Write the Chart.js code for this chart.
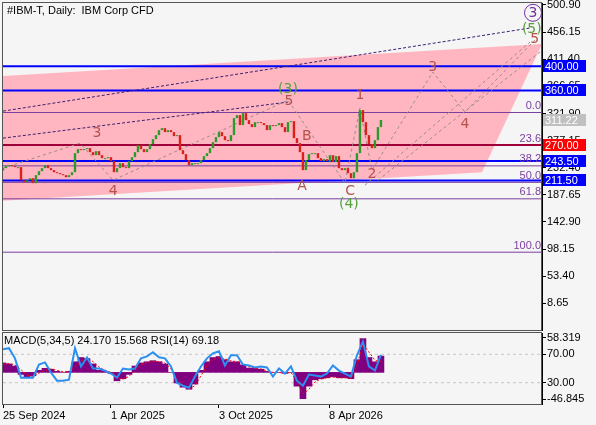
<!DOCTYPE html>
<html>
<head>
<meta charset="utf-8">
<script src="https://cdn.jsdelivr.net/npm/chart.js@4.4.1/dist/chart.umd.min.js"></script>
<style>
  html, body { margin: 0; padding: 0; background: #f5f5f5; }
  #wrap { position: relative; width: 596px; height: 425px; overflow: hidden; background: #f5f5f5; }
  #main { position: absolute; left: 0; top: 0; }
  #sub { position: absolute; left: 0; top: 331px; }
</style>
</head>
<body>
<div id="wrap">
  <canvas id="main" width="596" height="331"></canvas>
  <canvas id="sub" width="596" height="94"></canvas>
</div>
<script>
// daily closes, one every 3 px (bar index 0 = left edge)
var firstOpen = 228.0;
var closes = [231.7, 235.0, 236.6, 235.0, 233.3, 233.3, 211.8, 208.5, 211.8, 215.1,
  206.9, 220.1, 226.7, 231.7, 236.6, 231.7, 228.4, 225.0, 223.4, 221.7,
  220.1, 216.8, 220.1, 225.0, 256.4, 263.0, 261.4, 263.0, 264.7, 258.1,
  253.1, 259.7, 253.1, 248.2, 248.2, 249.8, 243.2, 225.0, 231.7, 239.9,
  233.3, 231.7, 243.2, 249.8, 258.1, 269.6, 263.0, 258.1, 263.0, 271.3,
  279.6, 286.2, 294.4, 297.7, 291.1, 294.4, 291.1, 284.5, 286.2, 261.4,
  254.8, 244.9, 236.6, 239.9, 239.9, 239.9, 244.9, 251.5, 256.4, 264.7,
  274.6, 282.9, 291.1, 284.5, 277.9, 276.3, 286.2, 314.2, 319.2, 302.7,
  322.5, 310.9, 304.3, 299.4, 307.6, 307.6, 306.0, 302.7, 294.4, 302.7,
  301.0, 302.7, 306.0, 299.4, 291.1, 307.6, 309.3, 281.2, 273.0, 258.1,
  228.4, 244.9, 254.8, 256.4, 256.4, 248.2, 243.2, 246.5, 243.2, 253.1,
  241.6, 251.5, 231.7, 228.4, 231.7, 223.4, 215.1, 225.0, 256.4, 327.5,
  307.6, 286.2, 271.3, 264.7, 277.9, 299.4, 311.22];

// indicator window, one value every second bar
var rsiValues = [77.1, 78.6, 64.3, 37.1, 37.1, 37.1, 55.7, 58.6, 44.3, 32.9,
  32.9, 34.3, 78.6, 52.9, 65.7, 50.0, 50.0, 47.1, 42.9, 37.1,
  50.0, 48.6, 50.0, 64.3, 67.1, 72.9, 65.7, 64.3, 52.9, 30.0,
  25.7, 22.9, 38.6, 52.9, 64.3, 71.4, 74.3, 54.3, 68.6, 68.6,
  55.7, 54.3, 51.4, 52.9, 51.4, 38.6, 50.0, 42.9, 52.9, 32.9,
  25.7, 41.4, 40.0, 38.6, 42.9, 54.3, 47.1, 42.9, 38.6, 68.6,
  88.0, 52.9, 47.1, 69.18];
var macdValues = [14, 12.5, 9.4, -3, -8, -5, 3, 6, 4.7, 1.5,
  0, 1.5, 15.7, 22, 20.4, 12.5, 3, 1.5, -1.5, -12.5,
  -9.4, -3, 9.4, 14, 15.7, 17.3, 15.7, 12.5, 0, -15.7,
  -22, -25, -17.3, 3, 15.7, 22, 23.5, 18.8, 15.7, 15.7,
  11, 6.3, 6.3, 4.7, 1.5, 0, 0, -1.5, 0, -20.4,
  -39, -20.4, -11, -9.4, -8, -6.3, -8, -8, -9.4, 18.8,
  50, 22, 15.7, 24.17];
var signalValues = [12, 13, 11, 4, -4, -6, -1, 3, 5, 3,
  1, 1, 8, 17, 20, 16, 8, 3, 0, -8,
  -10, -6, 3, 11, 15, 16, 16, 14, 5, -9,
  -19, -24, -20, -5, 10, 19, 22, 20, 17, 16,
  13, 8, 6, 5, 2, 0, 0, -1, 0, -14,
  -32, -25, -14, -10, -8, -7, -8, -8, -9, 10,
  42, 30, 18, 15.57];

// axis ticks
var priceTicks = [500.90, 456.15, 411.40, 366.65, 321.90, 277.15, 232.40, 187.65, 142.90, 98.15, 53.40, 8.65];
var dateTicks = [0, 36, 72, 108.7];
var dateLabels = ['25 Sep 2024', '1 Apr 2025', '3 Oct 2025', '8 Apr 2026'];

// horizontal levels and their axis boxes
var levelPrices = [400, 360, 270, 243.5, 211.5];
var levelColors = ['#0000ff', '#0000ff', '#a0003a', '#0000ff', '#0000ff'];
var boxPrices = [400, 360, 311.22, 270, 243.5, 211.5];
var boxColors = ['#0000ff', '#0000ff', '#c0c0c0', '#ff0000', '#0000ff', '#0000ff'];

// fibonacci retracement
var fibHigh = 323.5;
var fibLow = 93.0;
var fibLevels = [0, 23.6, 38.2, 50, 61.8, 100];
var fibNames = ['0.0', '23.6', '38.2', '50.0', '61.8', '100.0'];

// pink channel corners [bar, price]
var channelShape = [[0, 383.6], [179.7, 436.5], [159.7, 225.1], [0, 178.0]];

// dashed wave / trend lines [bar, price]
var darkLines = [
  [[0, 325.8], [175.7, 462.9]],
  [[0, 281.2], [95, 340.7]]
];
var waveLines = [
  [[0, 231.7], [25.7, 272.9], [36.7, 211.8], [95, 344.0], [114, 206.9], [119, 330.8],
   [123, 228.4], [143.3, 390.2], [154, 324.2], [177.3, 443.1]],
  [[120.7, 203.6], [175.7, 439.8]],
  [[125, 211.8], [179, 423.3]]
];

// wave labels [bar, price, text, colour]
var waveLabels = [
  [31.3, 289.5, '3', '#b5524c'], [36.7, 193.7, '4', '#b5524c'],
  [95.3, 342.3, '5', '#b5524c'], [95, 362.2, '(3)', '#56a03c'],
  [99.7, 201.9, 'A', '#b5524c'], [101.3, 284.5, 'B', '#b5524c'],
  [115.7, 193.7, 'C', '#b5524c'], [115.3, 172.2, '(4)', '#56a03c'],
  [119, 352.2, '1', '#b5524c'], [123, 221.7, '2', '#b5524c'],
  [143.3, 398.5, '3', '#b5524c'], [154, 304.3, '4', '#b5524c'],
  [177.3, 445.0, '5', '#b5524c'], [176.3, 460.5, '(5)', '#56a03c']
];
var circledLabel = [176.7, 488.0, '3', '#7030a0'];

var xMax = 179.7;
Chart.defaults.font.family = '"Liberation Sans", Arial, sans-serif';
Chart.defaults.font.size = 11;
Chart.defaults.color = '#000';

function toPoints(list) {
  return list.map(function(p) { return {x: p[0], y: p[1]}; });
}
function flatLine(price) {
  return [{x: 0, y: price}, {x: xMax, y: price}];
}
// keep the plot area exactly where the layout padding puts it
function noLabelPadding(s) {
  s.paddingTop = 0;
  s.paddingBottom = 0;
  s.paddingLeft = 0;
  s.paddingRight = 0;
}

// ---------- main price pane ----------
var opens = [firstOpen].concat(closes.slice(0, -1));
var mainSets = [];

mainSets.push({
  type: 'line', data: toPoints(channelShape), fill: 'shape',
  backgroundColor: '#ffb6c1', borderWidth: 0, pointRadius: 0, order: 20
});
fibLevels.forEach(function(lv) {
  var p = fibHigh - (fibHigh - fibLow) * lv / 100;
  mainSets.push({type: 'line', data: flatLine(p), borderColor: '#7b3f9e', borderWidth: 1, pointRadius: 0, order: 12});
});
levelPrices.forEach(function(p, i) {
  mainSets.push({type: 'line', data: flatLine(p), borderColor: levelColors[i], borderWidth: 2, pointRadius: 0, order: 10});
});
darkLines.forEach(function(l) {
  mainSets.push({type: 'line', data: toPoints(l), borderColor: '#3a2070', borderWidth: 1, borderDash: [3, 2], pointRadius: 0, order: 8});
});
waveLines.forEach(function(l) {
  mainSets.push({type: 'line', data: toPoints(l), borderColor: '#9a8d86', borderWidth: 1, borderDash: [3, 3], pointRadius: 0, order: 8});
});
mainSets.push({
  type: 'bar',
  data: closes.map(function(c, i) { return {x: i, y: [opens[i], c]}; }),
  backgroundColor: closes.map(function(c, i) { return c >= opens[i] ? '#2e9a2e' : '#d8201c'; }),
  barPercentage: 0.8, categoryPercentage: 1, minBarLength: 1, borderWidth: 0, order: 1
});

var mainOverlay = {
  id: 'mainOverlay',
  afterDatasetsDraw: function(chart) {
    var ctx = chart.ctx, xs = chart.scales.x, ys = chart.scales.y, a = chart.chartArea;
    ctx.save();
    // fib level names
    ctx.font = '11px "Liberation Sans"';
    ctx.fillStyle = '#7b3f9e';
    ctx.textAlign = 'right';
    ctx.textBaseline = 'bottom';
    fibLevels.forEach(function(lv, i) {
      var p = fibHigh - (fibHigh - fibLow) * lv / 100;
      ctx.fillText(fibNames[i], a.right - 1, ys.getPixelForValue(p) - 1);
    });
    // wave counts
    ctx.font = '14px "DejaVu Sans"';
    ctx.textAlign = 'center';
    ctx.textBaseline = 'middle';
    waveLabels.forEach(function(w) {
      ctx.fillStyle = w[3];
      ctx.fillText(w[2], xs.getPixelForValue(w[0]), ys.getPixelForValue(w[1]));
    });
    var cx = xs.getPixelForValue(circledLabel[0]), cy = ys.getPixelForValue(circledLabel[1]);
    ctx.strokeStyle = circledLabel[3];
    ctx.lineWidth = 1;
    ctx.beginPath();
    ctx.arc(cx, cy, 8.5, 0, Math.PI * 2);
    ctx.stroke();
    ctx.fillStyle = circledLabel[3];
    ctx.fillText(circledLabel[2], cx, cy + 1);
    ctx.restore();
  },
  afterDraw: function(chart) {
    var ctx = chart.ctx, ys = chart.scales.y, a = chart.chartArea;
    ctx.save();
    ctx.strokeStyle = '#555';
    ctx.lineWidth = 1;
    ctx.strokeRect(a.left - 0.5, a.top - 0.5, a.right - a.left, a.bottom - a.top + 1);
    // price boxes on the axis
    ctx.font = '11px "Liberation Sans"';
    ctx.textAlign = 'left';
    ctx.textBaseline = 'middle';
    boxPrices.forEach(function(p, i) {
      var y = Math.round(ys.getPixelForValue(p));
      ctx.fillStyle = boxColors[i];
      ctx.fillRect(a.right + 1, y - 6, 43, 12);
      ctx.fillStyle = '#fff';
      ctx.fillText(p.toFixed(2), a.right + 3, y + 0.5);
    });
    ctx.fillStyle = '#000';
    ctx.fillText('#IBM-T, Daily:  IBM Corp CFD', 7, 11);
    ctx.restore();
  }
};

var mainChart = new Chart(document.getElementById('main'), {
  type: 'bar',
  data: {datasets: mainSets},
  options: {
    responsive: false, animation: false,
    layout: {padding: {left: 3, top: 3, bottom: 1, right: 0}},
    plugins: {legend: {display: false}, tooltip: {enabled: false}},
    scales: {
      x: {type: 'linear', min: 0, max: xMax, offset: false, display: false, grid: {offset: false}},
      y: {
        position: 'right', min: -35.4, max: 504.2,
        afterFit: function(s) { s.width = 54; noLabelPadding(s); },
        afterBuildTicks: function(s) { s.ticks = priceTicks.map(function(v) { return {value: v}; }); },
        ticks: {autoSkip: false, padding: 1, callback: function(v) { return v.toFixed(2); }},
        grid: {drawOnChartArea: false, tickLength: 4, color: '#000'},
        border: {color: '#000'}
      }
    }
  },
  plugins: [mainOverlay]
});

// ---------- MACD / RSI pane ----------
var subOverlay = {
  id: 'subOverlay',
  afterDraw: function(chart) {
    var ctx = chart.ctx, a = chart.chartArea;
    ctx.save();
    ctx.strokeStyle = '#555';
    ctx.lineWidth = 1;
    ctx.strokeRect(a.left - 0.5, a.top - 0.5, a.right - a.left, a.bottom - a.top + 1);
    ctx.font = '11px "Liberation Sans"';
    ctx.fillStyle = '#000';
    ctx.textBaseline = 'middle';
    ctx.fillText('MACD(5,34,5) 24.170 15.568 RSI(14) 69.18', 4, 10);
    ctx.restore();
  }
};

var subTickLabels = {93: '58.319', 70: '70.00', 30: '30.00', 7: '-46.845'};

var subChart = new Chart(document.getElementById('sub'), {
  type: 'bar',
  data: {
    datasets: [
      {type: 'line', data: rsiValues.map(function(v, i) { return {x: i * 2, y: v}; }), yAxisID: 'y',
        borderColor: '#2b8ff0', borderWidth: 2, pointRadius: 0, order: 1},
      {type: 'line', data: signalValues.map(function(v, i) { return {x: i * 2, y: v}; }), yAxisID: 'y2',
        borderColor: '#ff0000', borderWidth: 1, borderDash: [2, 2], pointRadius: 0, order: 2},
      {type: 'bar', data: macdValues.map(function(v, i) { return {x: i * 2, y: v}; }), yAxisID: 'y2',
        backgroundColor: '#800080', barPercentage: 1, categoryPercentage: 1, borderWidth: 0, order: 3},
      {type: 'line', data: flatLine(70), yAxisID: 'y', borderColor: '#c8c8c8', borderWidth: 1, borderDash: [3, 3], pointRadius: 0, order: 4},
      {type: 'line', data: flatLine(30), yAxisID: 'y', borderColor: '#c8c8c8', borderWidth: 1, borderDash: [3, 3], pointRadius: 0, order: 4}
    ]
  },
  options: {
    responsive: false, animation: false,
    layout: {padding: {left: 3, top: 2, bottom: 0, right: 0}},
    plugins: {legend: {display: false}, tooltip: {enabled: false}},
    scales: {
      x: {
        type: 'linear', min: 0, max: xMax, offset: false,
        afterFit: function(s) { s.height = 21; noLabelPadding(s); },
        afterBuildTicks: function(s) { s.ticks = dateTicks.map(function(v) { return {value: v}; }); },
        ticks: {autoSkip: false, maxRotation: 0, align: 'start', padding: 1,
          callback: function(v) { return dateLabels[dateTicks.indexOf(v)]; }},
        grid: {drawOnChartArea: false, offset: false, tickLength: 4, color: '#000'},
        border: {color: '#000'}
      },
      y: {
        position: 'right', min: 0, max: 100,
        afterFit: function(s) { s.width = 54; noLabelPadding(s); },
        afterBuildTicks: function(s) { s.ticks = [93, 70, 30, 7].map(function(v) { return {value: v}; }); },
        ticks: {autoSkip: false, padding: 1, callback: function(v) { return subTickLabels[v]; }},
        grid: {drawOnChartArea: false, tickLength: 4, color: '#000'},
        border: {color: '#000'}
      },
      y2: {display: false, min: -46.845, max: 58.319}
    }
  },
  plugins: [subOverlay]
});
</script>
</body>
</html>
